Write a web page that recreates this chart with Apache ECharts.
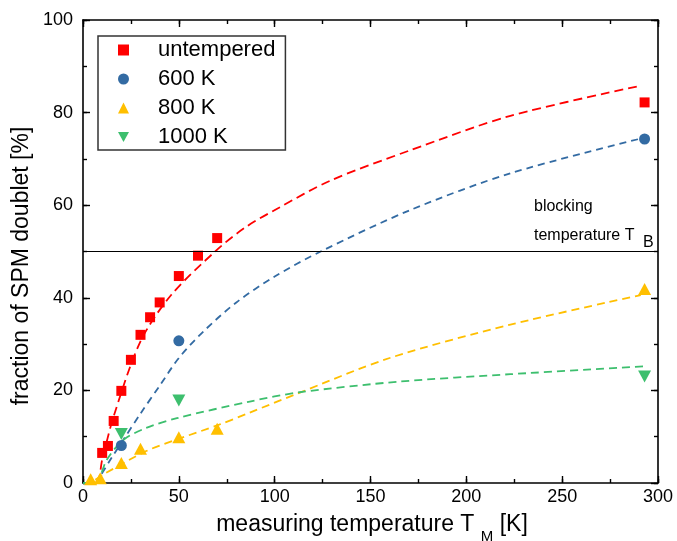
<!DOCTYPE html>
<html>
<head>
<meta charset="utf-8">
<script src="https://cdn.jsdelivr.net/npm/echarts@6/dist/echarts.min.js"></script>
<style>
html,body{margin:0;padding:0;background:#fff;}
#chart{width:677px;height:541px;}
</style>
</head>
<body>
<div id="chart"></div>
<script>
// ---- data ----
const xTicks = [0, 50, 100, 150, 200, 250, 300];
const yTicks = [0, 20, 40, 60, 80, 100];
const seriesNames = ['untempered', '600 K', '800 K', '1000 K'];

const untemperedT = [10, 13, 16, 20, 25, 30, 35, 40, 50, 60, 70, 293];
const untemperedF = [6.5, 8.0, 13.4, 19.9, 26.6, 32.0, 35.8, 39.0, 44.7, 49.1, 52.9, 82.2];
const k600T = [20, 50, 293];
const k600F = [8.1, 30.7, 74.3];
const k800T = [4, 9, 20, 30, 50, 70, 293];
const k800F = [0.8, 1.0, 4.3, 7.4, 9.9, 11.7, 41.9];
const k1000T = [20, 50, 293];
const k1000F = [10.6, 17.8, 23.0];

// dashed fit curves
const fitUntemperedT = [0, 7, 10, 16, 30, 46, 70, 85, 102, 129, 171, 223, 291];
const fitUntemperedF = [0, 0, 5.0, 14.4, 30.6, 40.6, 50.4, 55.3, 59.4, 65.3, 71.9, 79.3, 85.8];
const fit600T = [0, 6.5, 9, 15, 21, 30, 40, 50, 63, 80, 100, 124, 171, 223, 293];
const fit600F = [0, 0, 1.5, 5.5, 9.3, 15.0, 21.0, 27.0, 32.8, 39.0, 44.6, 50.0, 59.0, 66.9, 74.6];
const fit800T = [0, 2, 12, 33, 49, 71, 87, 110, 160, 223, 291];
const fit800F = [0, 0, 2.2, 6.9, 9.4, 12.6, 15.2, 19.0, 27.0, 34.2, 40.6];
const fit1000T = [0, 7, 9, 12.4, 21, 33, 49, 87, 113, 165, 223, 293];
const fit1000F = [0, 0, 1.4, 5.0, 9.3, 11.9, 14.0, 17.6, 19.6, 21.9, 23.5, 25.2];

const blockingLevel = 50;

// ---- styling ----
const FONT = '"Liberation Sans", Arial, Helvetica, sans-serif';
const colors = ['#ff0000', '#336ba3', '#ffbf00', '#3dbf6e'];
const dashes = [[9, 5], [7, 5], [8, 5], [8, 5]];
const symbols = ['rect', 'circle', 'triangle', 'path://M0,0 L10,0 L5,9 Z'];
const symbolSizes = [10, 11, [13, 12], [13, 12]];

const zip = (a, b) => a.map((v, i) => [v, b[i]]);
const pts = [zip(untemperedT, untemperedF), zip(k600T, k600F), zip(k800T, k800F), zip(k1000T, k1000F)];
const fits = [zip(fitUntemperedT, fitUntemperedF), zip(fit600T, fit600F), zip(fit800T, fit800F), zip(fit1000T, fit1000F)];

const chart = echarts.init(document.getElementById('chart'), null, {renderer: 'canvas'});

function mkAxis(position, min, max, interval, tickLen, showLine, label) {
  return {
    type: 'value', position: position, min: min, max: max, interval: interval,
    axisLine: {show: showLine, onZero: false, lineStyle: {color: '#000', width: 1.6}},
    axisTick: {show: true, inside: true, length: tickLen, lineStyle: {color: '#000', width: 1.4}},
    minorTick: {show: false},
    splitLine: {show: false},
    axisLabel: label || {show: false}
  };
}
const xLabel = {fontSize: 18, color: '#000', margin: 5, fontFamily: FONT,
  formatter: v => (xTicks.indexOf(v) >= 0 ? String(v) : '')};
const yLabel = {fontSize: 18, color: '#000', margin: 10, fontFamily: FONT,
  formatter: v => (yTicks.indexOf(v) >= 0 ? String(v) : '')};

const series = [];
fits.forEach((d, i) => {
  const s = {
    name: 'fit ' + seriesNames[i],
    type: 'line',
    xAxisIndex: 0, yAxisIndex: 0,
    data: d,
    showSymbol: false,
    smooth: 0.3,
    silent: true,
    clip: true,
    z: 2,
    lineStyle: {color: colors[i], width: 1.8, type: dashes[i]}
  };
  if (i === 0) {
    s.markLine = {
      silent: true,
      symbol: 'none',
      label: {show: false},
      lineStyle: {color: '#000', width: 1.2, type: 'solid'},
      data: [{yAxis: blockingLevel}]
    };
  }
  series.push(s);
});
pts.forEach((d, i) => {
  series.push({
    name: seriesNames[i],
    type: 'scatter',
    xAxisIndex: 0, yAxisIndex: 0,
    data: d,
    symbol: symbols[i],
    symbolSize: symbolSizes[i],
    itemStyle: {color: colors[i], opacity: 1},
    z: 3
  });
});

chart.setOption({
  animation: false,
  backgroundColor: '#fff',
  textStyle: {fontFamily: FONT},
  grid: {left: 83, right: 19, top: 20, bottom: 58, containLabel: false},
  legend: {
    data: seriesNames,
    orient: 'vertical',
    left: 98,
    top: 36,
    padding: [3, 10, 2, 20],
    itemWidth: 11,
    itemHeight: 11,
    itemGap: 7,
    symbolKeepAspect: true,
    borderColor: '#333',
    borderWidth: 1.5,
    backgroundColor: '#fff',
    selectedMode: false,
    textStyle: {fontSize: 22, lineHeight: 22, color: '#000', fontFamily: FONT, padding: [0, 0, 0, 24]}
  },
  xAxis: [
    mkAxis('bottom', 0, 300, 50, 7, true, xLabel),
    mkAxis('top', 0, 300, 50, 7, true),
    mkAxis('bottom', 0, 300, 25, 4, false),
    mkAxis('top', 0, 300, 25, 4, false)
  ],
  yAxis: [
    mkAxis('left', 0, 100, 20, 7, true, yLabel),
    mkAxis('right', 0, 100, 20, 7, true),
    mkAxis('left', 0, 100, 10, 4, false),
    mkAxis('right', 0, 100, 10, 4, false)
  ],
  graphic: [
    {type: 'text', x: 534, y: 207, silent: true,
      style: {text: 'blocking', font: '16px ' + FONT, fill: '#000', textAlign: 'left', textVerticalAlign: 'middle'}},
    {type: 'text', x: 534, y: 236, silent: true,
      style: {text: 'temperature T', font: '16px ' + FONT, fill: '#000', textAlign: 'left', textVerticalAlign: 'middle'}},
    {type: 'text', x: 643, y: 243, silent: true,
      style: {text: 'B', font: '16px ' + FONT, fill: '#000', textAlign: 'left', textVerticalAlign: 'middle'}},
    {type: 'text', x: 372, y: 526, silent: true,
      style: {
        text: '{n|measuring temperature T }{s|M}{n| [K]}',
        textAlign: 'center', textVerticalAlign: 'middle', fill: '#000',
        rich: {
          n: {fontSize: 23, fontFamily: FONT, color: '#000', lineHeight: 26, verticalAlign: 'top'},
          s: {fontSize: 15, fontFamily: FONT, color: '#000', lineHeight: 15, verticalAlign: 'top', padding: [16, 0, 0, 0]}
        }
      }},
    {type: 'text', x: 22, y: 266, rotation: Math.PI / 2, silent: true,
      style: {text: 'fraction of SPM doublet [%]', font: '23px ' + FONT, fill: '#000',
        textAlign: 'center', textVerticalAlign: 'middle'}}
  ],
  series: series
});
</script>
</body>
</html>
